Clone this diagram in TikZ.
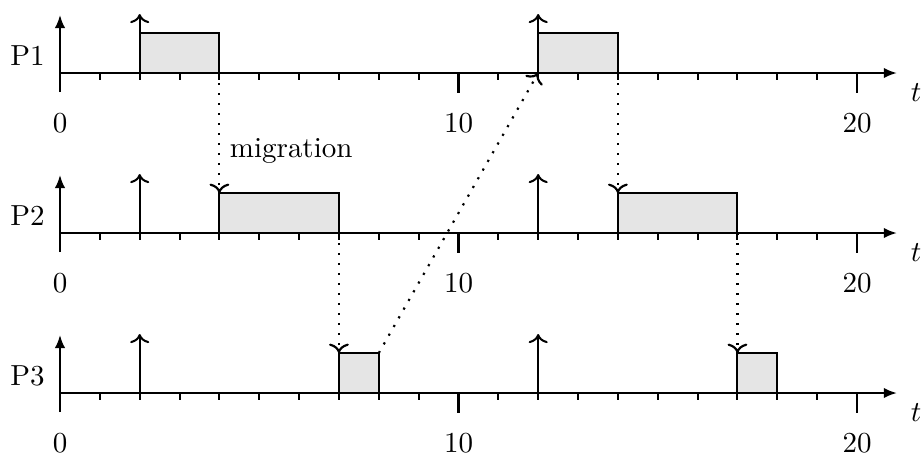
\documentclass[tikz,border=0pt]{standalone}
\usetikzlibrary{arrows.meta}
\begin{document}
\begin{tikzpicture}[x=13.748pt, y=-0.345pt,
  axisline/.style={line width=0.7pt, -{Latex[length=4.5pt,width=3.6pt]}},
  tickline/.style={line width=0.7pt},
  release/.style={line width=0.7pt, ->},
  jobbox/.style={line width=0.7pt, fill=gray!20},
  migr/.style={line width=0.75pt, dash pattern=on 0.75pt off 2.7pt, ->},
  lbl/.style={inner sep=0pt, anchor=base}]
\useasboundingbox (-1.5056,0) rectangle (21.6562,455);
% job boxes
\draw[jobbox] (2,73) coordinate (j1a) rectangle (4,33);
\draw[jobbox] (12,73) coordinate (j1b) rectangle (14,33);
\draw[jobbox] (4,233) rectangle (7,193);
\draw[jobbox] (14,233) rectangle (17,193);
\draw[jobbox] (7,393) rectangle (8,353);
\draw[jobbox] (17,393) rectangle (18,353);
% migration end points
\coordinate (m1s) at (4,73);   \coordinate (m1e) at (4,193);
\coordinate (m2s) at (7,233);  \coordinate (m2e) at (7,353);
\coordinate (m3s) at (14,73);  \coordinate (m3e) at (14,193);
\coordinate (m4s) at (17,233); \coordinate (m4e) at (17,353);
\coordinate (m5s) at (8,353);  \coordinate (m5e) at (12,73);
% axes
\foreach \r/\yy in {1/73,2/233,3/393}{
  \draw[axisline] (0,\yy) -- (21,\yy);
  \draw[axisline] (0,{\yy+19}) -- (0,{\yy-58});
  \foreach \t in {1,2,3,4,5,6,7,8,9,11,12,13,14,15,16,17,18,19}
    \draw[tickline] (\t,\yy) -- (\t,{\yy+7});
  \foreach \t in {10,20}
    \draw[tickline] (\t,\yy) -- (\t,{\yy+20});
  \foreach \t in {0,10,20}
    \node[lbl] (n\r-\t) at (\t,{\yy+59}) {\t};
  \node[lbl] (P\r) at (-0.8156,{\yy-8}) {P\r};
  \node (t\r) at (21.48,{\yy+20}) {$t$};
  \foreach \t in {2,12}
    \draw[release] (\t,\yy) -- (\t,{\yy-59});
}
% migrations
\draw[migr] (m1s) -- (m1e);
\draw[migr] (m2s) -- (m2e);
\draw[migr] (m3s) -- (m3e);
\draw[migr] (m4s) -- (m4e);
\draw[migr] (m5s) -- (m5e);
\node[inner sep=0pt, anchor=base west] (mig) at (4.25,157) {migration};
\end{tikzpicture}
\end{document}
